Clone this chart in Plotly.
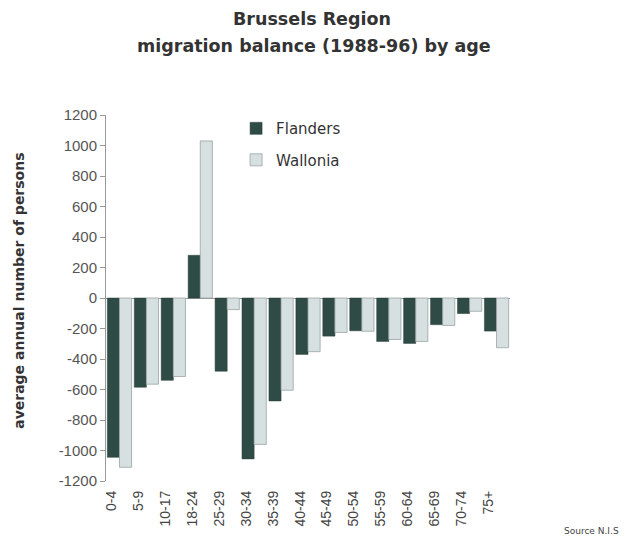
import plotly.graph_objects as go

categories = ["0-4", "5-9", "10-17", "18-24", "25-29", "30-34", "35-39", "40-44",
              "45-49", "50-54", "55-59", "60-64", "65-69", "70-74", "75+"]
flanders = [-1045, -585, -540, 280, -480, -1055, -675, -370,
            -250, -215, -285, -298, -175, -102, -217]
wallonia = [-1110, -565, -515, 1030, -76, -960, -605, -352,
            -226, -218, -272, -285, -180, -87, -326]
y_ticks = list(range(-1200, 1201, 200))
y_ticktext = [str(v) for v in y_ticks]

fig = go.Figure()
fig.add_trace(go.Bar(x=categories, y=flanders, name="Flanders", legendgroup="f",
                     marker=dict(color="#2e4b46", line=dict(color="#2a3f3b", width=0.5))))
fig.add_trace(go.Bar(x=categories, y=wallonia, name="Wallonia", legendgroup="w",
                     marker=dict(color="#d6e0e0", line=dict(color="#9aa3a3", width=0.8))))

fig.update_layout(
    width=627, height=539,
    margin=dict(l=106, r=117, t=115, b=56),
    paper_bgcolor="white", plot_bgcolor="white",
    barmode="group", bargap=0.1, bargroupgap=0.0,
    font=dict(family="Arial, Liberation Sans, sans-serif", color="#333333"),
    legend=dict(x=0.322, y=1.008, xanchor="left", yanchor="top",
                bgcolor="rgba(0,0,0,0)",
                font=dict(family="DejaVu Sans", size=15, color="#333333"),
                traceorder="grouped", tracegroupgap=9),
    showlegend=True,
)
fig.update_xaxes(type="category", showline=False, ticks="", showgrid=False,
                 tickangle=-90, tickfont=dict(size=14, color="#444444"),
                 zeroline=False, ticklabelshift=-8, ticklabelstandoff=6)
fig.update_yaxes(range=[-1200, 1200], tickvals=y_ticks, ticktext=y_ticktext,
                 showgrid=False,
                 showline=True, linecolor="#999999", linewidth=1,
                 ticks="outside", ticklen=5, tickcolor="#999999",
                 zeroline=True, zerolinecolor="#999999", zerolinewidth=1,
                 tickfont=dict(size=15, color="#555555"))

title_font = dict(family="DejaVu Sans", size=17.5, color="#333333")
fig.add_annotation(text="<b>Brussels Region</b>", xref="paper", yref="paper",
                   x=0.511, y=1.2636, xanchor="center", yanchor="middle",
                   showarrow=False, font=title_font)
fig.add_annotation(text="<b>migration balance (1988-96) by age</b>", xref="paper", yref="paper",
                   x=0.514, y=1.1875, xanchor="center", yanchor="middle",
                   showarrow=False, font=title_font)
fig.add_annotation(text="<b>average annual number of persons</b>", xref="paper", yref="paper",
                   x=-0.215, y=0.52, xanchor="center", yanchor="middle", textangle=-90,
                   showarrow=False, font=dict(family="DejaVu Sans", size=14, color="#333333"))
fig.add_annotation(text="Source N.I.S", xref="paper", yref="paper",
                   x=1.2005, y=-0.136, xanchor="center", yanchor="middle",
                   showarrow=False, font=dict(family="DejaVu Sans", size=9, color="#444444"))

fig.write_html("out.html", config={"displayModeBar": False},
               post_script="document.body.style.margin='0';")
